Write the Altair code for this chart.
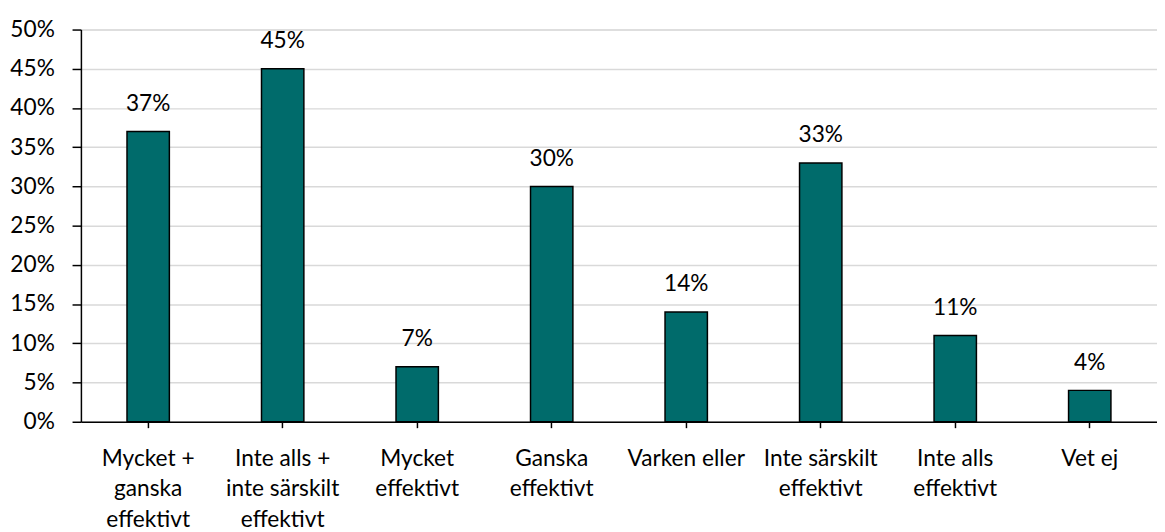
import altair as alt
import pandas as pd

categories = [
    "Mycket +\nganska\neffektivt",
    "Inte alls +\ninte särskilt\neffektivt",
    "Mycket\neffektivt",
    "Ganska\neffektivt",
    "Varken eller",
    "Inte särskilt\neffektivt",
    "Inte alls\neffektivt",
    "Vet ej",
]
values = [0.37, 0.45, 0.07, 0.30, 0.14, 0.33, 0.11, 0.04]
y_ticks = [0, 0.05, 0.10, 0.15, 0.20, 0.25, 0.30, 0.35, 0.40, 0.45, 0.50]

df = pd.DataFrame({"cat": categories, "val": values})

FONT = "Lato"
FS = 23

x = alt.X(
    "cat:N",
    sort=categories,
    title=None,
    scale=alt.Scale(paddingInner=0.685, paddingOuter=0.3425),
    axis=alt.Axis(
        labelExpr="split(datum.label, '\\n')",
        labelAngle=0,
        labelFont=FONT,
        labelFontSize=FS,
        labelColor="black",
        labelLineHeight=31,
        labelPadding=20,
        labelBaseline="top",
        tickColor="black",
        tickSize=6,
        tickWidth=1.5,
        domainColor="black",
        domainWidth=1.5,
        grid=False,
        labelLimit=300,
    ),
)

y = alt.Y(
    "val:Q",
    title=None,
    scale=alt.Scale(domain=[0, 0.5], nice=False),
    axis=alt.Axis(
        values=y_ticks,
        format=".0%",
        labelFont=FONT,
        labelFontSize=FS,
        labelColor="black",
        labelPadding=18,
        tickColor="black",
        tickSize=9,
        tickWidth=1.5,
        domainColor="black",
        domainWidth=1.5,
        gridColor="#D9D9D9",
        gridWidth=1.5,
    ),
)

bars = alt.Chart(df).mark_bar(color="#006B6B", stroke="black", strokeWidth=1.5).encode(x=x, y=y)
text = alt.Chart(df).mark_text(
    font=FONT, fontSize=FS, color="black", baseline="bottom", dy=-16
).encode(x=x, y=y, text=alt.Text("val:Q", format=".0%"))

chart = (
    alt.layer(bars, text)
    .properties(
        width=1092,
        height=398,
        autosize=alt.AutoSizeParams(type="none"),
        padding={"left": 74, "top": 18, "right": 0, "bottom": 108},
    )
    .configure_view(stroke=None)
    .configure(background="white")
)

chart.save("out.html", embed_options={"renderer": "svg", "actions": False})
